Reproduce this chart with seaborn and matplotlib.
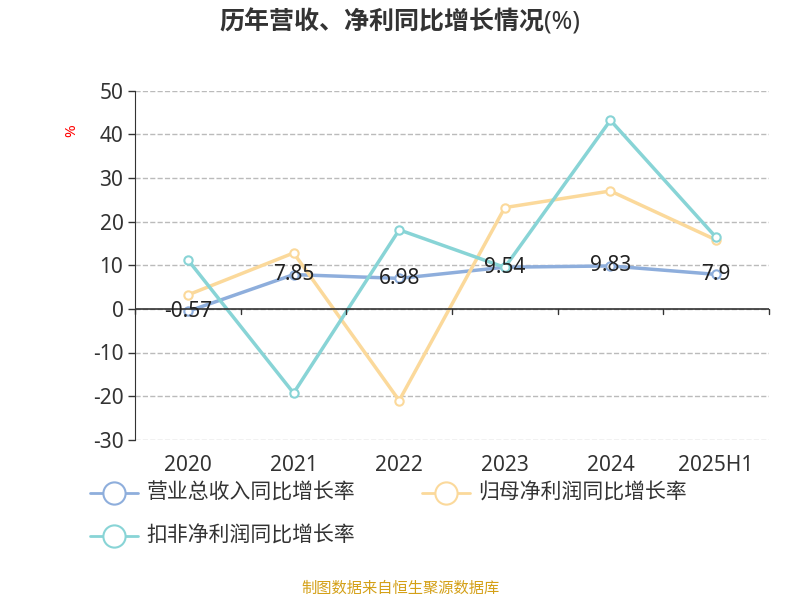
import matplotlib
matplotlib.use("Agg")
import matplotlib.pyplot as plt
import seaborn as sns
import pandas as pd

years = ["2020", "2021", "2022", "2023", "2024", "2025H1"]
revenue = [-0.57, 7.85, 6.98, 9.54, 9.83, 7.9]
netprofit = [3.2, 12.8, -21.0, 23.2, 27.0, 15.8]
deducted = [11.2, -19.3, 18.1, 9.5, 43.2, 16.4]
names = ["营业总收入同比增长率", "归母净利润同比增长率", "扣非净利润同比增长率"]
colors = ["#8eaedc", "#fbd99b", "#88d4d6"]

sns.set_style("white")
plt.rcParams['font.family'] = ['Noto Sans', 'Noto Sans CJK SC', 'DejaVu Sans']
plt.rcParams['axes.unicode_minus'] = False

rows = []
for n, vals in zip(names, [revenue, netprofit, deducted]):
    for i, v in enumerate(vals):
        rows.append({"x": i, "v": v, "s": n})
df = pd.DataFrame(rows)

fig = plt.figure(figsize=(8, 6), dpi=100)
ax = fig.add_axes([0.169, 0.267, 0.792, 0.582])
sns.lineplot(data=df, x="x", y="v", hue="s", palette=colors, ax=ax, lw=2.5,
             marker="o", markersize=6, markerfacecolor="white", markeredgewidth=1.5,
             legend=False)
for line, c in zip(ax.lines, colors):
    line.set_markeredgecolor(c)

for i, v in enumerate(revenue):
    ax.text(i, v, f"{v:g}", ha="center", va="center", fontsize=15, color="#222")

ax.set_xlim(-0.5, 5.5)
ax.set_ylim(-30, 50)
ax.set_yticks(range(-30, 51, 10))
ax.tick_params(axis="y", labelsize=15, colors="#333", length=5, width=1, direction="out", left=True)
ax.set_xticks([])
for s in ["top", "right", "bottom"]:
    ax.spines[s].set_visible(False)
ax.spines["left"].set_color("#333")
ax.grid(axis="y", ls="--", color="#bbb", lw=1)
ax.axhline(0, color="#333", lw=1.2)
for b in [-0.5 + k for k in range(7)]:
    ax.plot([b, b], [0, -1.2], color="#333", lw=1, clip_on=False)
for i, y in enumerate(years):
    ax.text(i, -36, y, ha="center", va="center", fontsize=15, color="#333")
ax.set_xlabel("")
ax.set_ylabel("")
fig.text(0.09, 0.783, "%", color="red", fontsize=11, rotation=90, ha="center", va="center")

fig.text(0.5, 0.962, "历年营收、净利同比增长情况(%)", ha="center", va="center",
         fontsize=18, fontweight="bold", color="#333")

from matplotlib.lines import Line2D
def legend_item(x, y, c, label):
    fig.add_artist(Line2D([x, x + 0.06], [y, y], color=c, lw=2, transform=fig.transFigure))
    fig.add_artist(Line2D([x + 0.03], [y], marker="o", markersize=16, markerfacecolor="white",
                          markeredgecolor=c, markeredgewidth=1.5, transform=fig.transFigure))
    fig.text(x + 0.07, y, label, va="center", fontsize=15, color="#333")
legend_item(0.113, 0.178, colors[0], names[0])
legend_item(0.528, 0.178, colors[1], names[1])
legend_item(0.113, 0.107, colors[2], names[2])

fig.text(0.5, 0.018, "制图数据来自恒生聚源数据库", ha="center", va="center",
         fontsize=11, color="#d4a017")

fig.savefig("out.png", dpi=100)
